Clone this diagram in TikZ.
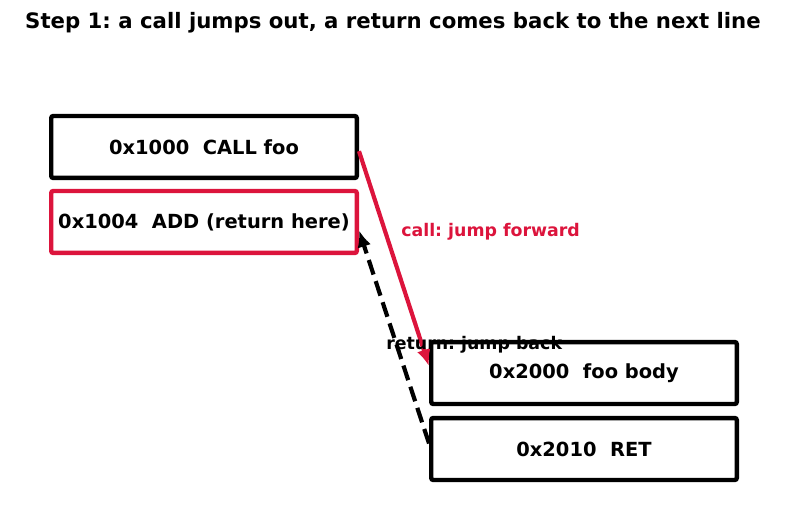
\documentclass[tikz,border=0pt]{standalone}
\usepackage{fontspec}
\setmainfont{DejaVu Sans}
\usetikzlibrary{arrows.meta}
\definecolor{crim}{RGB}{220,20,60}
\frenchspacing

\begin{document}
\begin{tikzpicture}[x=0.72pt, y=-0.72pt, every node/.style={font=\bfseries}, >={Latex[length=12pt, width=10pt]}]
	\tikzset{instr/.style={draw, line width=3.2pt, rounded corners=1.5pt, minimum width=220pt, minimum height=44.6pt, font=\bfseries\fontsize{14}{16}\selectfont}}
	\useasboundingbox (0,0) rectangle (787,508);
	\node[font=\bfseries\fontsize{15.3}{18}\selectfont] (title) at (393,23) {Step 1: a call jumps out, a return comes back to the next line};
	\node[instr] (call) at (204,147) {0x1000\ \ CALL foo};
	\node[instr, draw=crim] (add) at (204,222) {0x1004\ \ ADD (return here)};
	\node[instr] (body) at (584,373) {0x2000\ \ foo body};
	\node[instr] (ret) at (584,449) {0x2010\ \ RET};
	\draw[crim, line width=3pt, ->] ([yshift=-3pt]call.east) -- ([yshift=5pt]body.west);
	\draw[line width=3pt, dash pattern=on 11pt off 5pt, ->] ([yshift=4pt]ret.west) -- ([yshift=-6pt]add.east);
	\node[crim, anchor=west, inner sep=0pt, font=\bfseries\fontsize{12.5}{15}\selectfont] (calllbl) at (401,232) {call: jump forward};
	\node[anchor=west, inner sep=0pt, font=\bfseries\fontsize{12.5}{15}\selectfont] (retlbl) at (386,345) {return: jump back};
\end{tikzpicture}
\end{document}
